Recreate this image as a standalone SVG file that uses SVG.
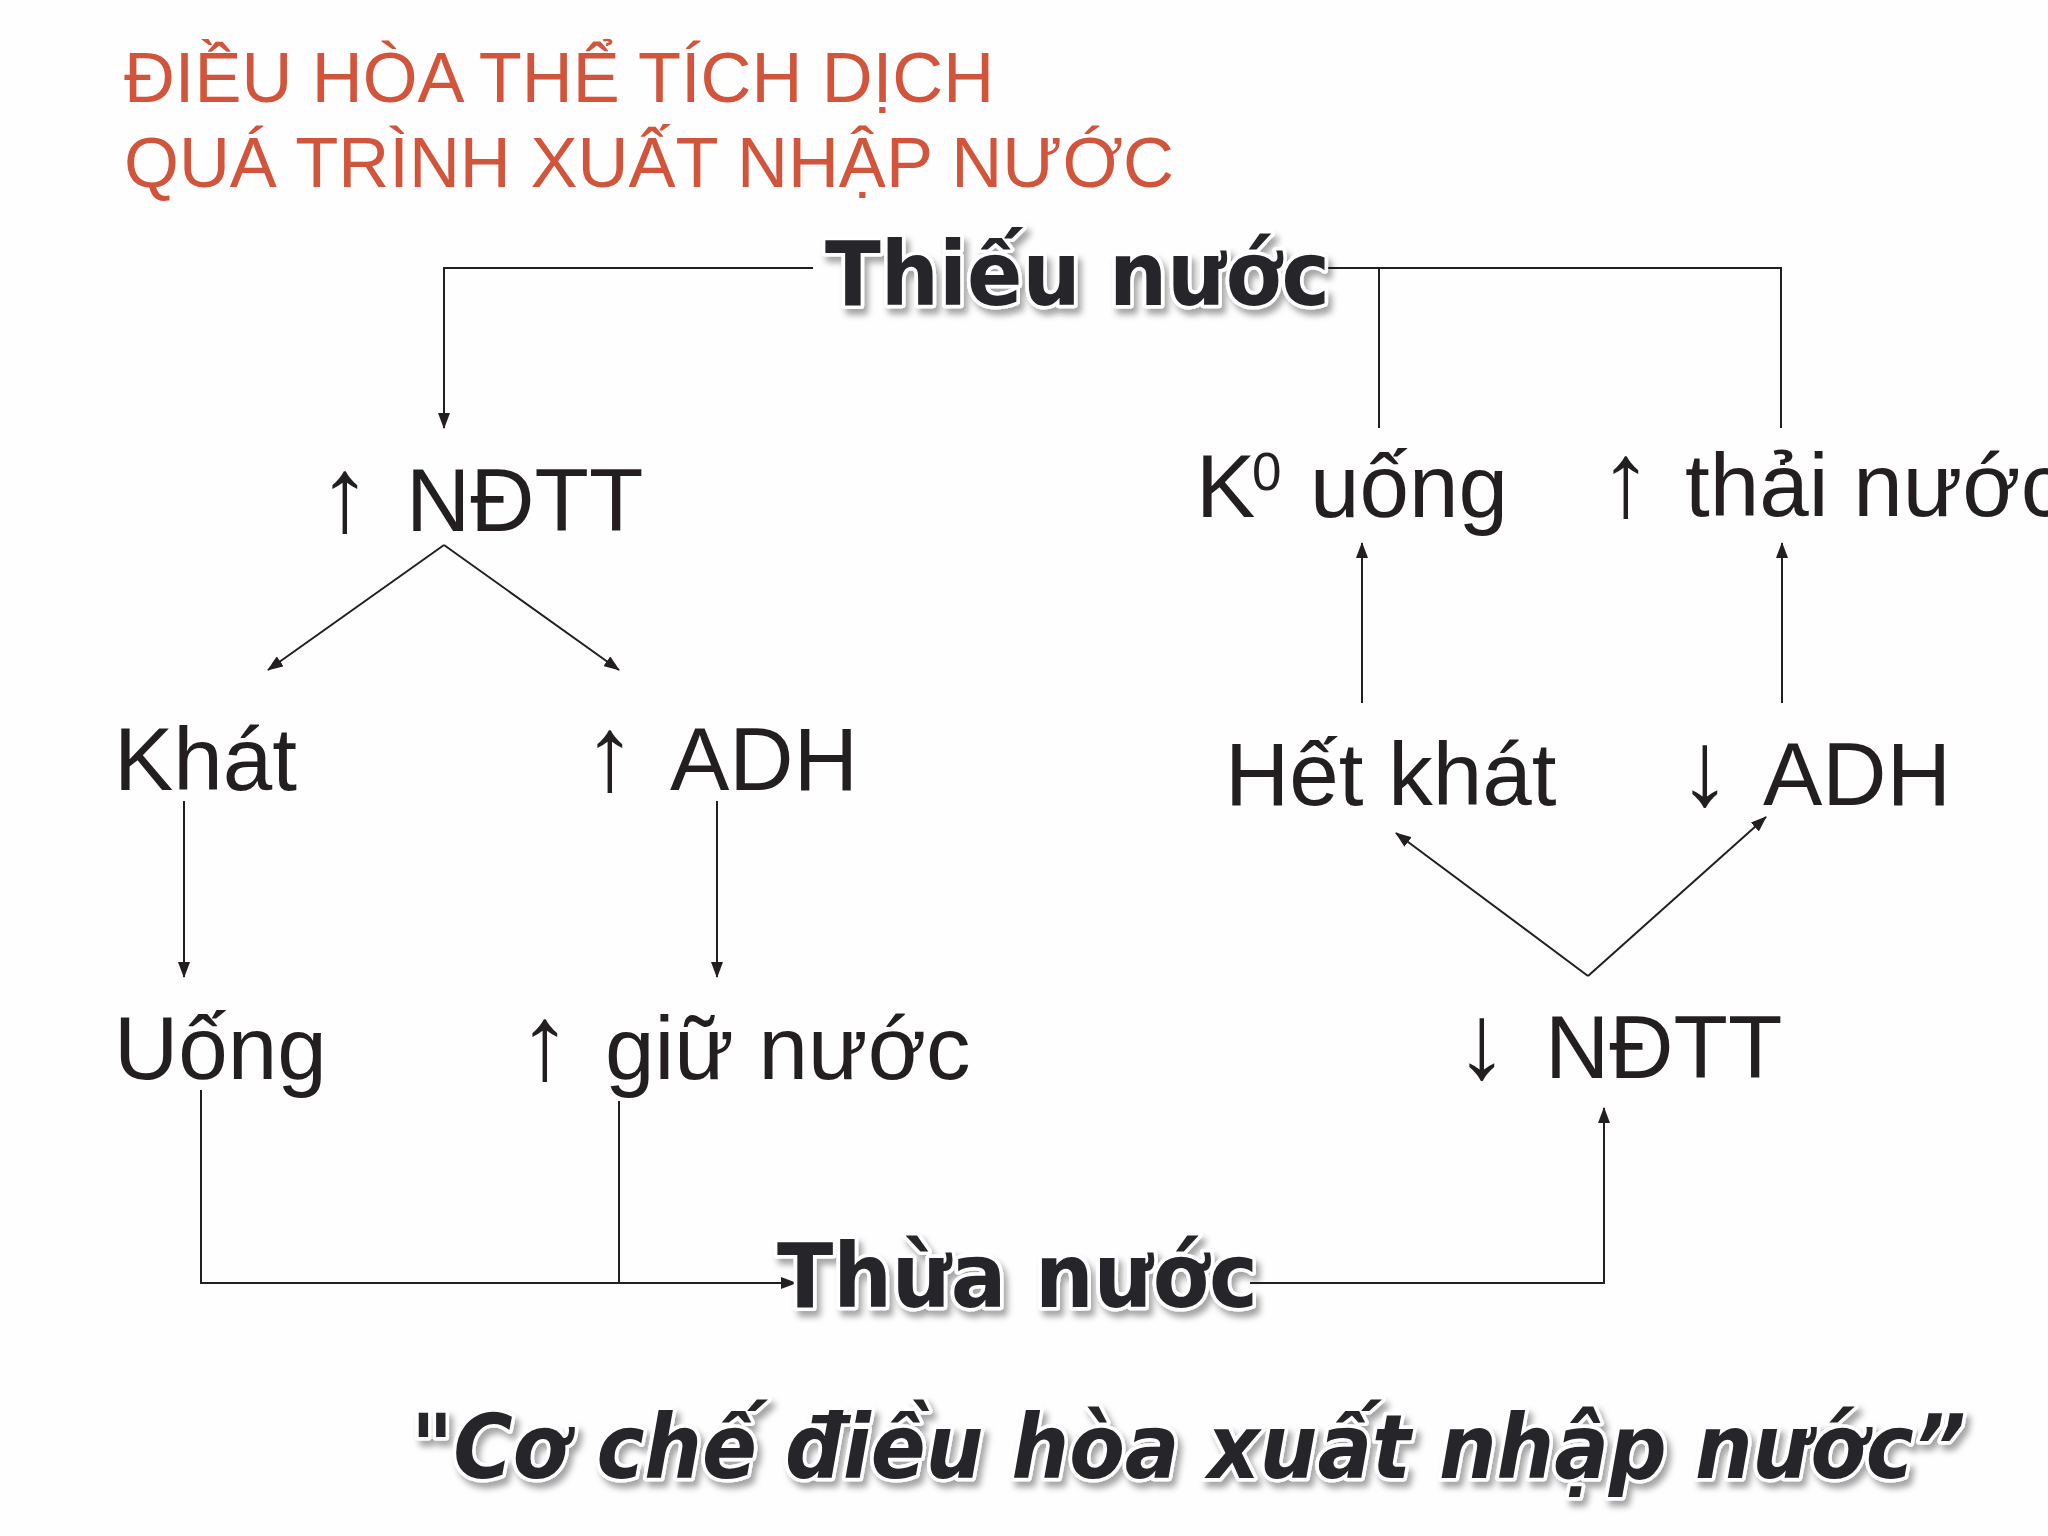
<svg xmlns="http://www.w3.org/2000/svg" width="2048" height="1536" viewBox="0 0 2048 1536">
<defs>
<marker id="ah" viewBox="0 0 16 12" markerWidth="16" markerHeight="12" refX="15" refY="6" orient="auto" markerUnits="userSpaceOnUse">
<path d="M0,0 L16,6 L0,12 z" fill="#231f20"/>
</marker>
<filter id="sh" x="-10%" y="-30%" width="120%" height="160%">
<feDropShadow dx="4" dy="6" stdDeviation="3" flood-color="#000" flood-opacity="0.35"/>
</filter>
</defs>
<style>
.title{font-family:"Liberation Sans",Arial,sans-serif;font-size:71px;fill:#D2543A}
.t{font-family:"Liberation Sans",Arial,sans-serif;font-size:89px;fill:#231f20}
.ar{font-size:106px}
.sup{font-family:"Liberation Sans",Arial,sans-serif;font-size:53px;fill:#231f20}
.big{font-family:"DejaVu Sans",Verdana,sans-serif;font-weight:bold;font-stretch:condensed;font-size:89px;fill:#25252b;stroke:#ffffff;stroke-width:7px;stroke-linejoin:round;paint-order:stroke}
.it{font-style:italic}
.c{fill:none;stroke:#231f20;stroke-width:2}
</style>
<rect width="2048" height="1536" fill="#fefefe"/>
<g id="title">
<text class="title" x="124" y="102" textLength="870" lengthAdjust="spacingAndGlyphs">ĐIỀU HÒA THỂ TÍCH DỊCH</text>
<text class="title" x="124" y="187" textLength="1050" lengthAdjust="spacingAndGlyphs">QUÁ TRÌNH XUẤT NHẬP NƯỚC</text>
</g>
<g id="connectors">
<path class="c" d="M813,268 H444 V428" marker-end="url(#ah)"/>
<path class="c" d="M1290,268 H1781 V428"/>
<path class="c" d="M1379,268 V428"/>
<path class="c" d="M444,545 L268,670" marker-end="url(#ah)"/>
<path class="c" d="M444,545 L619,670" marker-end="url(#ah)"/>
<path class="c" d="M184,801 V977" marker-end="url(#ah)"/>
<path class="c" d="M717,801 V977" marker-end="url(#ah)"/>
<path class="c" d="M201,1090 V1283 H796" marker-end="url(#ah)"/>
<path class="c" d="M619,1101 V1283"/>
<path class="c" d="M1250,1283 H1604 V1108" marker-end="url(#ah)"/>
<path class="c" d="M1588,976 L1396,833" marker-end="url(#ah)"/>
<path class="c" d="M1588,976 L1766,817" marker-end="url(#ah)"/>
<path class="c" d="M1362,703 V543" marker-end="url(#ah)"/>
<path class="c" d="M1782,703 V543" marker-end="url(#ah)"/>
</g>
<g id="thieu-nuoc">
<text class="big" x="825" y="305" textLength="505" lengthAdjust="spacingAndGlyphs" filter="url(#sh)">Thiếu nước</text>
</g>
<g id="tang-ndtt">
<text class="t" y="531"><tspan class="ar" x="345" text-anchor="middle">↑</tspan><tspan x="406">NĐTT</tspan></text>
</g>
<g id="khat">
<text class="t" x="114" y="790">Khát</text>
</g>
<g id="tang-adh">
<text class="t" y="790"><tspan class="ar" x="610" text-anchor="middle">↑</tspan><tspan x="670">ADH</tspan></text>
</g>
<g id="uong">
<text class="t" x="114" y="1079">Uống</text>
</g>
<g id="tang-giu-nuoc">
<text class="t" y="1079"><tspan class="ar" x="545" text-anchor="middle">↑</tspan><tspan x="605">giữ nước</tspan></text>
</g>
<g id="k0-uong">
<text class="t" x="1196" y="517">K</text>
<text class="sup" x="1252" y="490">0</text>
<text class="t" x="1310" y="517">uống</text>
</g>
<g id="tang-thai-nuoc">
<text class="t" y="516"><tspan class="ar" x="1626" text-anchor="middle">↑</tspan><tspan x="1685">thải nước</tspan></text>
</g>
<g id="het-khat">
<text class="t" x="1225" y="805">Hết khát</text>
</g>
<g id="giam-adh">
<text class="t" y="805"><tspan class="ar" x="1705" text-anchor="middle">↓</tspan><tspan x="1763">ADH</tspan></text>
</g>
<g id="giam-ndtt">
<text class="t" y="1078"><tspan class="ar" x="1482" text-anchor="middle">↓</tspan><tspan x="1545">NĐTT</tspan></text>
</g>
<g id="thua-nuoc">
<text class="big" x="777" y="1307" textLength="481" lengthAdjust="spacingAndGlyphs" filter="url(#sh)">Thừa nước</text>
</g>
<g id="caption">
<text class="big it" x="411" y="1478" textLength="1555" lengthAdjust="spacingAndGlyphs" filter="url(#sh)">"Cơ chế điều hòa xuất nhập nước”</text>
</g>
</svg>
